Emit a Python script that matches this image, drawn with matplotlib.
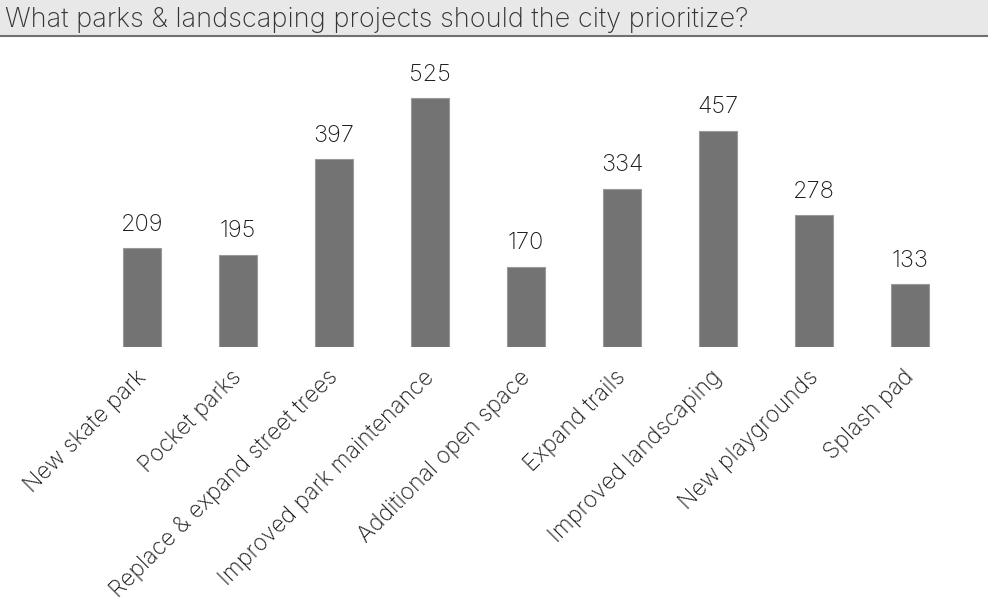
import matplotlib
matplotlib.use('Agg')
import matplotlib.pyplot as plt
import matplotlib.transforms as mtransforms

plt.rcParams['font.family'] = ['Inter', 'DejaVu Sans']
plt.rcParams['font.weight'] = 'light'

title = 'What parks & landscaping projects should the city prioritize?'
projects = [
    'New skate park',
    'Pocket parks',
    'Replace & expand street trees',
    'Improved park maintenance',
    'Additional open space',
    'Expand trails',
    'Improved landscaping',
    'New playgrounds',
    'Splash pad',
]
votes = [209, 195, 397, 525, 170, 334, 457, 278, 133]

W, H = 988, 603
fig = plt.figure(figsize=(W / 100, H / 100), dpi=100)

# title band across the top
band = fig.add_axes([0, 1 - 36 / H, 1, 36 / H])
band.set_facecolor('#e8e8e8')
band.set_xticks([])
band.set_yticks([])
for side in ('top', 'left', 'right'):
    band.spines[side].set_visible(False)
band.spines['bottom'].set_color('#707070')
band.spines['bottom'].set_linewidth(1.5)
band.text(0.005, 0.44, title, transform=band.transAxes, ha='left', va='center',
          fontsize=19.5, color='#333333', fontweight='light')

ax = fig.add_axes([94 / W, 256 / H, 864 / W, 284 / H])
x = range(len(projects))
ax.bar(x, votes, width=0.4, color='#737373', edgecolor='#9a9a9a', linewidth=0.8)
ax.set_xlim(-0.5, len(projects) - 0.5)
ax.set_ylim(0, 600)

for xi, v in zip(x, votes):
    ax.annotate(str(v), (xi, v), xytext=(0, 9), textcoords='offset points',
                ha='center', va='bottom', fontsize=17, color='#1a1a1a')

ax.set_xticks(list(x))
ax.set_xticklabels(projects, rotation=45, ha='right', rotation_mode='anchor',
                   fontsize=16.5, color='#1a1a1a')
ax.tick_params(axis='x', length=0, pad=14)
# nudge the slanted labels a little to the left
shift = mtransforms.ScaledTranslation(-0.07, 0, fig.dpi_scale_trans)
for lbl in ax.get_xticklabels():
    lbl.set_transform(lbl.get_transform() + shift)
ax.set_yticks([])
for s in ax.spines.values():
    s.set_visible(False)

fig.savefig('out.png', dpi=100)
